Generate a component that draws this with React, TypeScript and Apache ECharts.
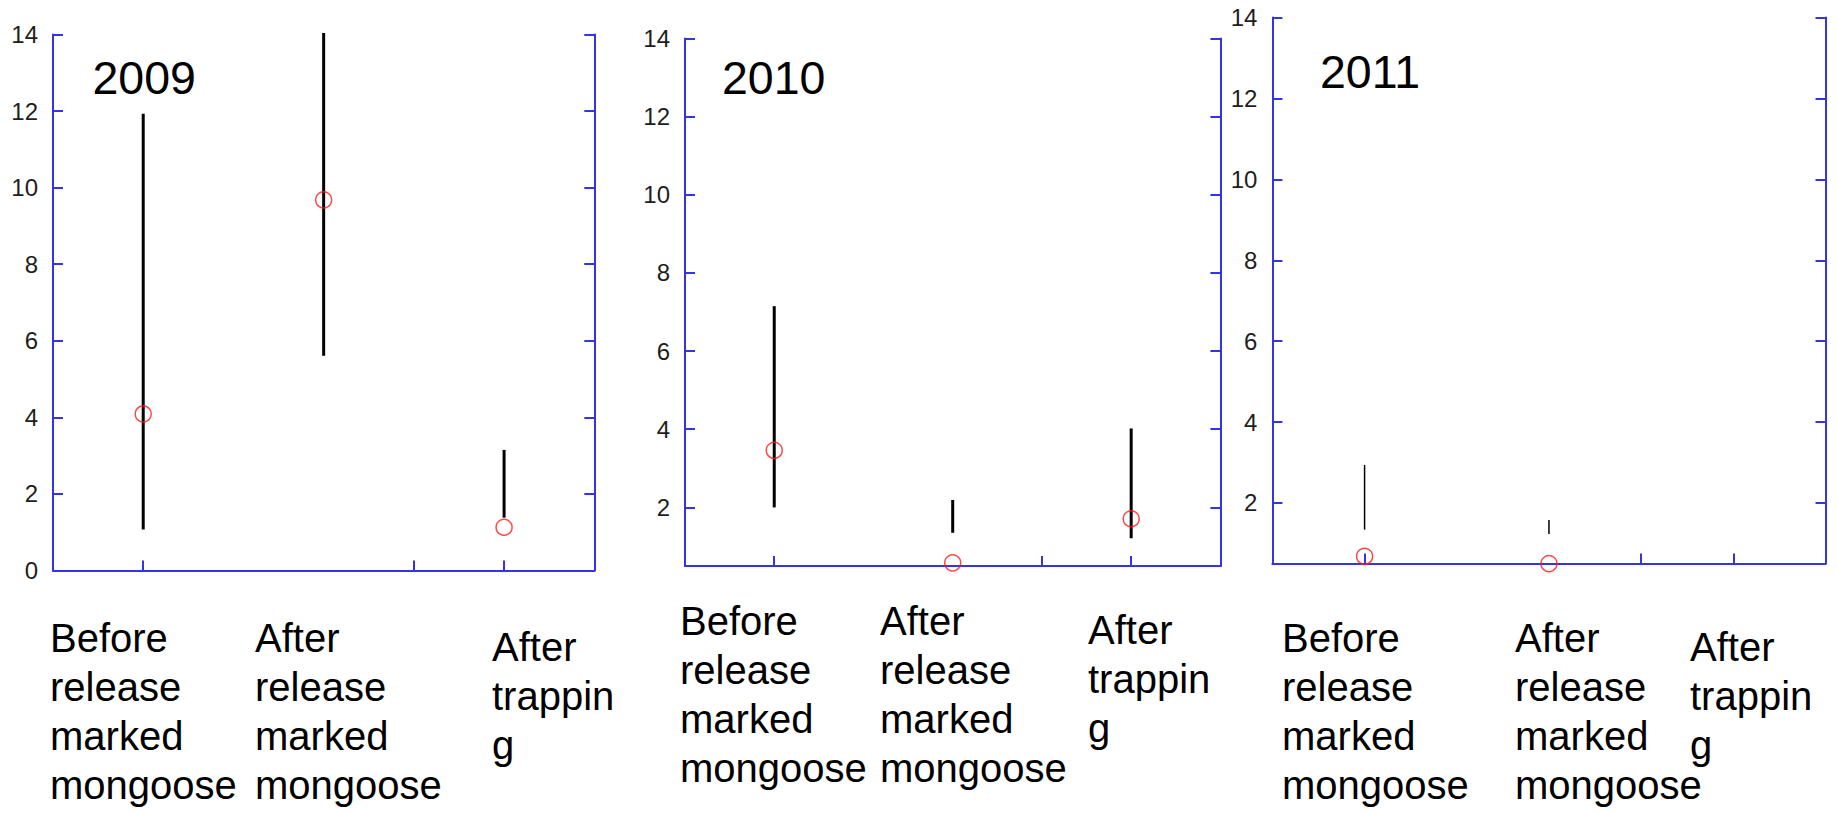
import React, { useEffect, useRef } from 'react';
import * as echarts from 'echarts';

// ---------- data ----------
const years = ['2009', '2010', '2011'];
const categories = ['Before release marked mongoose', 'After release marked mongoose', 'After trapping'];
const categoryLines = [
  ['Before', 'release', 'marked', 'mongoose'],
  ['After', 'release', 'marked', 'mongoose'],
  ['After', 'trappin', 'g'],
];

const mean2009 = [4.09, 9.68, 1.13];
const low2009 = [1.07, 5.61, 1.38];
const high2009 = [11.93, 14.04, 3.15];

const mean2010 = [3.46, 0.58, 1.71];
const low2010 = [2.0, 1.35, 1.21];
const high2010 = [7.15, 2.19, 4.02];

const mean2011: (number | null)[] = [0.68, 0.5, null];
const low2011: (number | null)[] = [1.34, 1.23, null];
const high2011: (number | null)[] = [2.94, 1.58, null];

const yMins = [0, 0.5, 0.5];
const yMax = 14;
const yTicks2009 = [0, 2, 4, 6, 8, 10, 12, 14];
const yTicksOther = [2, 4, 6, 8, 10, 12, 14];

// ---------- layout / style ----------
const BLUE = '#3434e4';
const FONT = 'Liberation Sans';
const grids = [
  { left: 53, top: 34.5, width: 541.3, height: 536 },
  { left: 685, top: 38.5, width: 535.4, height: 527.5 },
  { left: 1272.4, top: 17.6, width: 553.1, height: 546 },
];
const barWidths = [3, 3, 1.5];
const yearPos = [
  { x: 92.5, y: 78.3 },
  { x: 722, y: 77.8 },
  { x: 1320, y: 71.5 },
];
const labelPos = [
  [{ x: 50, y: 613 }, { x: 255, y: 613 }, { x: 492, y: 622 }],
  [{ x: 680, y: 596.6 }, { x: 880, y: 596.6 }, { x: 1088, y: 605 }],
  [{ x: 1282, y: 613 }, { x: 1515, y: 613 }, { x: 1690, y: 622 }],
];

const panels = [
  { mean: mean2009, low: low2009, high: high2009, ticks: yTicks2009 },
  { mean: mean2010, low: low2010, high: high2010, ticks: yTicksOther },
  { mean: mean2011, low: low2011, high: high2011, ticks: yTicksOther },
];

export default function App() {
  const ref = useRef<HTMLDivElement>(null);
  useEffect(() => {
    document.body.style.margin = '0';
    if (!ref.current) return;
    const chart = echarts.init(ref.current, undefined, { renderer: 'svg' });

    const lineStyle = { color: BLUE, width: 2 };
    const xAxis: any[] = [];
    const yAxis: any[] = [];
    const series: any[] = [];
    const graphic: any[] = [];
    const labelText = {
      fontSize: 24,
      color: '#1e1e1e',
      fontFamily: FONT,
    };

    panels.forEach((p, g) => {
      xAxis.push({
        gridIndex: g,
        type: 'category',
        data: categories,
        position: 'bottom',
        boundaryGap: true,
        axisLine: { show: true, onZero: false, lineStyle },
        axisTick: { show: true, inside: true, length: 10, lineStyle },
        axisLabel: { show: false },
        splitLine: { show: false },
      });
      xAxis.push({
        gridIndex: g,
        type: 'category',
        data: categories,
        position: 'bottom',
        boundaryGap: true,
        axisLine: { show: false, onZero: false },
        axisTick: { show: true, inside: true, alignWithLabel: true, length: 10, lineStyle },
        axisLabel: { show: false },
        splitLine: { show: false },
      });
      const useCustom = yMins[g] !== 0;
      const yBase: any = {
        gridIndex: g,
        type: 'value',
        min: yMins[g],
        max: yMax,
        splitLine: { show: false },
        axisLine: { show: true, onZero: false, lineStyle },
        axisTick: useCustom
          ? { show: true, inside: true, length: 10, lineStyle, customValues: p.ticks }
          : { show: true, inside: true, length: 10, lineStyle },
      };
      if (!useCustom) yBase.interval = 2;
      yAxis.push({
        ...yBase,
        position: 'left',
        axisLabel: useCustom
          ? { show: true, customValues: p.ticks, margin: 15, ...labelText }
          : { show: true, margin: 15, ...labelText },
      });
      yAxis.push({
        ...yBase,
        position: 'right',
        axisLabel: useCustom ? { show: false, customValues: p.ticks } : { show: false },
      });

      const barData: any[] = [];
      p.low.forEach((lo, i) => {
        const hi = p.high[i];
        if (lo != null && hi != null) barData.push([i, lo, hi]);
      });
      const w = barWidths[g];
      series.push({
        type: 'custom',
        xAxisIndex: 2 * g,
        yAxisIndex: 2 * g,
        clip: false,
        data: barData,
        encode: { x: 0, y: [1, 2] },
        renderItem: (params: any, api: any) => {
          const x = api.value(0);
          const a = api.coord([x, api.value(1)]);
          const b = api.coord([x, api.value(2)]);
          return {
            type: 'line',
            shape: { x1: a[0], y1: a[1], x2: b[0], y2: b[1] },
            style: { stroke: '#000', lineWidth: w },
          };
        },
        z: 3,
      });
      const meanData: any[] = [];
      p.mean.forEach((m, i) => {
        if (m != null) meanData.push([i, m]);
      });
      series.push({
        type: 'scatter',
        xAxisIndex: 2 * g,
        yAxisIndex: 2 * g,
        clip: false,
        data: meanData,
        symbol: 'circle',
        symbolSize: 16,
        itemStyle: { color: 'rgba(0,0,0,0)', borderColor: '#ff1c1c', borderWidth: 1.5 },
        z: 5,
      });

      graphic.push({
        type: 'text',
        x: yearPos[g].x,
        y: yearPos[g].y,
        style: {
          text: years[g],
          fontSize: 46.5,
          fontFamily: FONT,
          fill: '#000',
          verticalAlign: 'middle',
          align: 'left',
        },
      });
      categoryLines.forEach((lines, c) => {
        graphic.push({
          type: 'text',
          x: labelPos[g][c].x,
          y: labelPos[g][c].y,
          style: {
            text: lines.join('\n'),
            fontSize: 40,
            lineHeight: 49,
            fontFamily: FONT,
            fill: '#000',
            verticalAlign: 'top',
            align: 'left',
          },
        });
      });
    });

    chart.setOption({
      animation: false,
      backgroundColor: '#fff',
      textStyle: { fontFamily: FONT, fontSize: 24, color: '#1e1e1e' },
      grid: grids.map((gr) => ({ ...gr, containLabel: false })),
      xAxis,
      yAxis,
      series,
      graphic,
    });
    return () => chart.dispose();
  }, []);
  return (
    <div
      ref={ref}
      style={{ position: 'absolute', left: 0, top: 0, width: '1837px', height: '813px' }}
    />
  );
}
